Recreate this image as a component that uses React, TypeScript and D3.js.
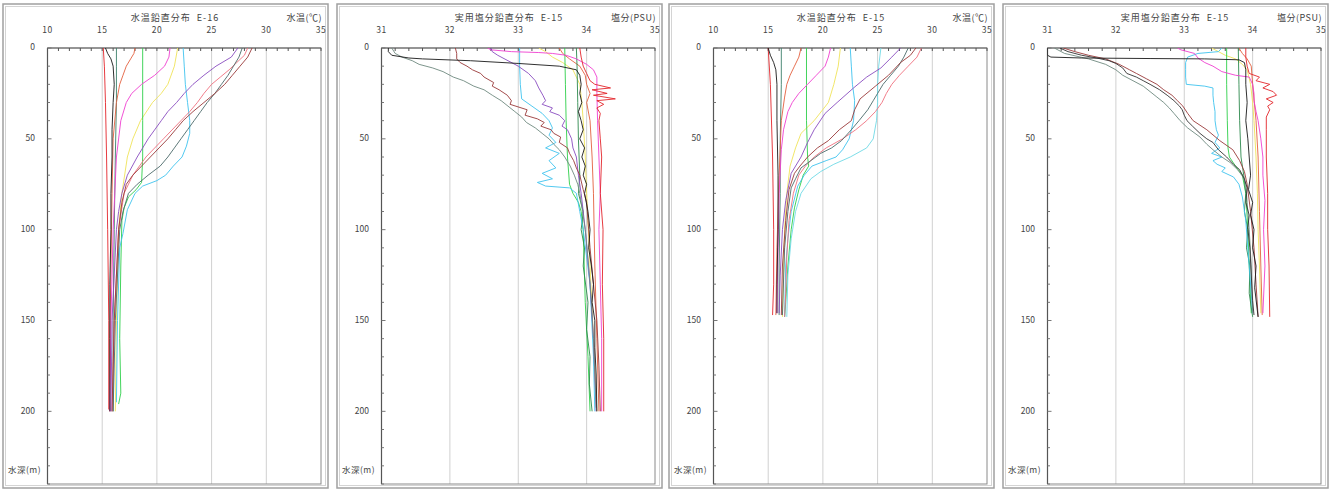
import React from 'react';
import * as d3 from 'd3';

type Pt = [number, number]; // [depth m, value]

// ---------- axis labels ----------
const tempTicks = [10, 15, 20, 25, 30, 35];
const salTicks = [31, 32, 33, 34, 35];
const depthTicks = [0, 50, 100, 150, 200];

// ---------- E-16 temperature ----------
const t16Red: Pt[] = [[0,15.1],[10,15.2],[30,15.3],[60,15.4],[100,15.5],[150,15.6],[199,15.6]];
const t16Black: Pt[] = [[0,15.3],[3,15.5],[6,15.8],[10,16.0],[20,16.1],[30,16.0],[45,15.9],[60,15.9],[80,15.8],[100,15.8],[130,15.7],[160,15.7],[200,15.7]];
const t16Teal: Pt[] = [[0,16.3],[10,16.3],[30,16.3],[60,16.2],[100,16.1],[150,16.0],[200,16.0]];
const t16Orange: Pt[] = [[0,18.0],[3,17.9],[6,17.6],[10,17.2],[15,16.9],[20,16.6],[30,16.3],[50,16.0],[80,15.9],[120,15.8],[160,15.7],[200,15.7]];
const t16Green: Pt[] = [[0,18.7],[20,18.7],[40,18.7],[60,18.7],[74,18.6],[78,18.1],[82,17.4],[88,17.0],[95,16.8],[120,16.7],[160,16.6],[190,16.7],[196,16.5]];
const t16Magenta: Pt[] = [[0,21.2],[5,21.1],[10,20.7],[15,19.8],[20,18.6],[25,17.7],[30,17.2],[40,16.7],[60,16.3],[100,16.0],[150,15.8],[200,15.7]];
const t16Yellow: Pt[] = [[0,21.9],[10,21.6],[20,21.0],[25,20.4],[30,19.6],[40,18.5],[50,17.8],[60,17.3],[80,16.8],[100,16.5],[150,16.3],[200,16.2]];
const t16Cyan: Pt[] = [[0,22.4],[10,22.5],[20,22.6],[30,22.8],[40,23.0],[47,23.0],[54,22.7],[60,22.3],[65,21.5],[70,20.8],[73,20.0],[76,18.7],[80,18.0],[89,17.3],[102,16.9],[110,16.6],[150,16.4],[195,16.3]];
const t16Purple: Pt[] = [[0,27.4],[5,26.8],[10,25.4],[15,24.3],[20,23.3],[25,22.5],[30,21.8],[35,21.0],[40,20.4],[50,19.2],[60,18.2],[70,17.3],[80,16.8],[90,16.5],[100,16.3],[150,15.9],[200,15.8]];
const t16Brown: Pt[] = [[0,28.7],[5,28.3],[10,27.6],[15,26.9],[20,26.2],[25,25.3],[30,24.3],[35,23.3],[40,22.4],[45,21.7],[50,21.0],[55,20.2],[60,19.4],[65,18.6],[70,17.8],[75,17.2],[85,16.8],[100,16.5],[150,16.1],[200,15.9]];
const t16Slate: Pt[] = [[0,27.8],[5,27.5],[10,27.0],[15,26.5],[20,25.9],[25,25.3],[30,24.6],[35,24.0],[40,23.4],[45,22.8],[50,22.2],[55,21.6],[60,21.0],[65,20.3],[70,19.2],[75,18.2],[80,17.4],[90,16.9],[100,16.6],[150,16.2],[200,16.0]];
const t16Pink: Pt[] = [[0,28.3],[4,28.0],[8,27.3],[12,26.6],[16,25.8],[20,25.0],[25,24.3],[30,23.7],[35,23.0],[40,22.2],[50,20.6],[60,19.0],[70,17.8],[80,17.0],[100,16.5],[150,16.1],[200,15.9]];

// ---------- E-15 temperature ----------
const t15Red: Pt[] = [[0,15.0],[20,15.2],[60,15.4],[100,15.5],[130,15.5],[147,15.4]];
const t15Black: Pt[] = [[0,15.0],[4,15.2],[8,15.5],[12,15.7],[20,15.8],[40,15.8],[70,15.9],[100,15.9],[130,15.8],[146,15.8]];
const t15Teal: Pt[] = [[0,16.2],[20,16.2],[50,16.1],[80,16.1],[120,16.0],[147,16.0]];
const t15Orange: Pt[] = [[0,18.0],[5,17.8],[10,17.4],[15,17.0],[20,16.7],[27,16.5],[40,16.2],[70,16.0],[110,15.8],[147,15.7]];
const t15Green: Pt[] = [[0,18.5],[20,18.5],[40,18.5],[60,18.6],[65,18.7],[70,18.2],[78,17.8],[88,17.4],[100,17.1],[120,16.8],[140,16.6],[148,16.5]];
const t15Magenta: Pt[] = [[0,20.7],[5,20.5],[10,20.2],[15,19.4],[20,18.6],[25,17.8],[30,17.2],[35,16.8],[45,16.4],[56,16.2],[80,16.0],[110,15.9],[146,15.8]];
const t15Yellow: Pt[] = [[0,21.6],[10,21.4],[20,21.0],[30,20.5],[40,19.2],[47,18.0],[55,17.5],[65,17.0],[80,16.7],[100,16.5],[148,16.3]];
const t15Cyan: Pt[] = [[0,22.5],[10,22.6],[20,22.7],[29,22.9],[40,22.8],[50,22.4],[56,21.8],[60,21.2],[62,20.3],[65,19.0],[70,18.3],[76,17.7],[90,17.1],[105,16.8],[120,16.6],[148,16.5]];
const t15Aqua: Pt[] = [[0,25.3],[10,25.1],[20,25.0],[30,25.0],[40,24.9],[50,24.6],[55,24.0],[60,22.5],[64,21.0],[68,19.8],[72,18.9],[80,18.0],[90,17.5],[105,17.1],[125,16.8],[148,16.7]];
const t15Purple: Pt[] = [[0,27.1],[5,26.3],[11,25.3],[16,24.0],[22,22.8],[30,21.3],[36,20.2],[45,19.2],[52,18.6],[60,18.0],[69,17.1],[84,16.6],[100,16.3],[125,16.1],[146,16.0]];
const t15Brown: Pt[] = [[0,28.5],[4,28.0],[8,27.1],[15,26.0],[21,24.8],[28,23.4],[34,22.9],[40,22.6],[45,21.5],[51,20.5],[55,19.5],[60,18.6],[65,17.9],[69,17.4],[78,16.9],[95,16.6],[120,16.3],[147,16.2]];
const t15Slate: Pt[] = [[0,27.8],[5,27.4],[10,26.9],[15,26.2],[20,25.5],[25,25.0],[29,24.6],[34,24.1],[40,23.3],[45,22.6],[51,21.7],[55,20.8],[58,19.8],[62,18.9],[66,18.0],[72,17.5],[77,17.1],[90,16.8],[110,16.5],[147,16.3]];
const t15Pink: Pt[] = [[0,29.0],[5,28.6],[10,27.8],[15,27.0],[20,26.3],[25,25.8],[30,25.4],[35,24.8],[40,24.0],[45,23.0],[50,21.8],[55,20.3],[60,19.2],[65,18.4],[70,17.8],[80,17.3],[95,16.9],[115,16.7],[135,16.6],[148,16.5]];

// ---------- E-16 salinity ----------
const s16Black: Pt[] = [[0,31.1],[2,31.1],[4,31.15],[5.5,31.4],[6,31.6],[7,32.3],[8.5,33.0],[10,33.6],[12,33.85],[15,33.9],[20,33.92],[25,33.9],[30,33.93],[35,33.88],[40,33.92],[45,33.95],[50,33.9],[55,33.97],[60,33.93],[65,33.98],[70,33.95],[75,34.0],[80,33.97],[90,34.02],[100,34.05],[110,34.03],[120,34.07],[130,34.1],[140,34.08],[150,34.12],[165,34.12],[180,34.14],[200,34.15]];
const s16Gray: Pt[] = [[0,31.15],[3,31.2],[5,31.3],[7,31.45],[9,31.55],[11,31.75],[13,31.9],[16,32.05],[18,32.2],[21,32.35],[23,32.5],[26,32.62],[29,32.75],[32,32.85],[35,32.95],[38,33.05],[41,33.12],[44,33.25],[47,33.35],[50,33.45],[53,33.52],[56,33.6],[60,33.68],[65,33.76],[70,33.82],[75,33.87],[80,33.9],[90,33.94],[100,33.98],[120,34.03],[140,34.07],[160,34.1],[180,34.12],[198,34.14]];
const s16Brown: Pt[] = [[0,32.08],[3,32.1],[6,32.1],[8,32.15],[10,32.25],[12,32.33],[14,32.45],[16,32.5],[19,32.64],[21,32.62],[23,32.72],[26,32.84],[29,32.9],[31,32.88],[34,33.13],[37,33.1],[39,33.28],[41,33.38],[43,33.33],[45,33.48],[47,33.52],[49,33.62],[52,33.6],[55,33.72],[58,33.75],[62,33.81],[66,33.85],[70,33.9],[78,33.95],[85,34.0],[95,34.02],[110,34.05],[130,34.1],[150,34.15],[175,34.18],[200,34.2]];
const s16Purple: Pt[] = [[0,32.6],[2,32.62],[4,32.7],[7,32.85],[10,33.0],[14,33.15],[18,33.25],[22,33.3],[26,33.36],[29,33.4],[31,33.35],[33,33.5],[35,33.46],[37,33.6],[40,33.68],[43,33.64],[45,33.72],[50,33.78],[55,33.8],[60,33.85],[70,33.88],[80,33.92],[100,33.98],[130,34.05],[160,34.1],[200,34.14]];
const s16Magenta: Pt[] = [[0,32.55],[1,32.6],[2,32.9],[2.5,33.3],[3,33.5],[4,33.7],[6,33.85],[9,34.0],[12,34.1],[16,34.15],[25,34.15],[40,34.16],[60,34.18],[80,34.2],[100,34.18],[130,34.2],[160,34.22],[200,34.22]];
const s16Cyan: Pt[] = [[0,33.02],[10,33.02],[20,33.03],[28,33.05],[32,33.2],[36,33.35],[40,33.45],[44,33.5],[48,33.45],[52,33.55],[55,33.4],[58,33.6],[62,33.45],[66,33.55],[69,33.35],[72,33.5],[74,33.28],[76,33.4],[77,33.75],[80,33.85],[90,33.9],[100,33.95],[130,34.05],[170,34.1],[200,34.12]];
const s16Green: Pt[] = [[0,33.68],[20,33.69],[40,33.7],[60,33.72],[75,33.75],[80,33.8],[85,33.88],[90,33.92],[100,33.95],[140,33.98],[170,34.02],[200,34.05]];
const s16DarkGreen: Pt[] = [[0,33.85],[10,33.86],[30,33.87],[50,33.88],[70,33.9],[80,33.88],[90,33.95],[100,33.92],[110,33.97],[120,33.95],[140,34.02],[155,34.0],[170,34.05],[185,34.04],[200,34.08]];
const s16Yellow: Pt[] = [[0,33.3],[2,33.4],[5,33.5],[8,33.65],[12,33.8],[16,33.85],[20,33.9],[30,33.93],[40,33.95],[60,33.98],[80,34.0],[120,34.05],[160,34.1],[200,34.15]];
const s16Orange: Pt[] = [[0,33.6],[3,33.65],[6,33.75],[10,33.9],[15,33.98],[20,34.0],[25,34.05],[30,34.0],[40,34.05],[60,34.08],[80,34.1],[120,34.12],[160,34.15],[200,34.18]];
const s16Red: Pt[] = [[0,33.9],[5,33.92],[10,33.95],[14,34.0],[18,34.05],[20,34.12],[22,34.35],[23,34.08],[25,34.3],[26,34.1],[28,34.42],[29,34.15],[31,34.25],[33,34.15],[36,34.2],[40,34.18],[50,34.2],[60,34.22],[80,34.2],[100,34.24],[130,34.23],[160,34.25],[200,34.25]];

// ---------- E-15 salinity ----------
const s15Black: Pt[] = [[0,31.0],[4,31.0],[5,31.05],[5.5,31.5],[5.8,32.5],[6,33.3],[6.5,33.8],[8,33.88],[12,33.9],[20,33.9],[30,33.92],[40,33.9],[50,33.93],[60,33.95],[70,33.97],[78,33.94],[85,34.0],[92,33.97],[100,34.02],[110,34.0],[120,34.05],[132,34.03],[148,34.08]];
const s15Dark: Pt[] = [[0,31.18],[2,31.3],[4,31.5],[5.5,31.72],[7,31.9],[8.5,32.0],[11,32.1],[14,32.16],[16,32.3],[18,32.4],[20,32.5],[23,32.64],[26,32.75],[29,32.85],[32,32.93],[34,32.97],[37,33.0],[40,33.04],[43,33.12],[47,33.23],[50,33.33],[52,33.42],[56,33.5],[60,33.62],[64,33.72],[67,33.81],[72,33.88],[77,33.92],[85,33.9],[92,33.95],[99,33.93],[110,33.96],[125,33.98],[139,34.0],[147,34.02]];
const s15Gray: Pt[] = [[0,31.1],[3,31.25],[6,31.6],[9,31.85],[12,32.0],[15,32.1],[18,32.25],[21,32.4],[24,32.5],[27,32.6],[30,32.7],[33,32.78],[36,32.85],[40,32.94],[44,33.05],[49,33.23],[53,33.33],[56,33.42],[60,33.55],[63,33.67],[67,33.78],[71,33.86],[75,33.9],[85,33.92],[100,33.95],[120,33.98],[146,34.0]];
const s15Brown: Pt[] = [[0,31.23],[2,31.4],[4,31.6],[6,31.85],[9,32.05],[12,32.2],[14,32.3],[17,32.45],[20,32.6],[23,32.7],[26,32.82],[29,32.9],[32,32.98],[36,33.05],[40,33.13],[45,33.33],[51,33.52],[56,33.71],[62,33.81],[68,33.88],[75,33.92],[90,33.97],[110,34.02],[130,34.05],[148,34.08]];
const s15Magenta: Pt[] = [[0,32.9],[1,32.95],[3,33.15],[5.5,33.2],[8,33.3],[10,33.42],[13,33.55],[15,33.75],[16,33.95],[20,34.0],[25,34.02],[29,34.02],[35,34.05],[40,34.08],[50,34.12],[60,34.15],[70,34.15],[84,34.18],[100,34.16],[120,34.18],[146,34.15]];
const s15Cyan: Pt[] = [[0,33.55],[2,33.5],[3,33.2],[5,33.05],[8,33.02],[12,33.02],[16,33.02],[20,33.03],[21,33.3],[22,33.42],[26,33.42],[30,33.43],[35,33.45],[40,33.45],[45,33.47],[48,33.5],[52,33.45],[55,33.52],[58,33.4],[60,33.55],[62,33.42],[64,33.48],[66,33.6],[68,33.55],[71,33.72],[75,33.8],[82,33.85],[95,33.9],[120,33.95],[146,34.0]];
const s15Green: Pt[] = [[0,33.62],[20,33.62],[40,33.63],[55,33.64],[60,33.66],[65,33.75],[70,33.85],[80,33.9],[100,33.93],[120,33.95],[146,33.98]];
const s15DarkGreen: Pt[] = [[0,33.79],[20,33.8],[40,33.81],[60,33.83],[70,33.87],[80,33.9],[90,33.88],[100,33.93],[110,33.91],[120,33.96],[135,33.95],[148,34.0]];
const s15Yellow: Pt[] = [[0,33.4],[2,33.5],[4,33.6],[6,33.75],[9,33.85],[12,33.92],[20,33.97],[30,34.0],[40,34.02],[60,34.05],[80,34.07],[100,34.08],[120,34.1],[146,34.12]];
const s15Orange: Pt[] = [[0,33.8],[3,33.85],[6,33.92],[10,33.98],[20,34.0],[40,34.05],[60,34.08],[90,34.1],[120,34.12],[147,34.14]];
const s15Red: Pt[] = [[0,33.9],[5,33.9],[10,33.92],[14,33.95],[16,34.1],[18,34.05],[20,34.25],[22,34.15],[24,34.3],[26,34.35],[28,34.2],[30,34.3],[32,34.22],[34,34.25],[38,34.2],[45,34.2],[60,34.2],[80,34.22],[100,34.22],[120,34.24],[148,34.25]];

const C = {
  red: '#e3262b', black: '#1a1a1a', teal: '#3c7f6a', orange: '#e3603f', green: '#2fcf4a',
  magenta: '#f03fd0', yellow: '#efe35a', cyan: '#3fc3ee', aqua: '#6fd9e6', purple: '#8a4cc0',
  brown: '#9a3a3a', slate: '#4d6a6a', pink: '#f0707e', gray: '#6f8a80', dgreen: '#2e8a4e', dark: '#333333',
};

type Series = { color: string; data: Pt[] };

const temp16: Series[] = [
  { color: C.yellow, data: t16Yellow }, { color: C.red, data: t16Red }, { color: C.teal, data: t16Teal },
  { color: C.orange, data: t16Orange }, { color: C.green, data: t16Green }, { color: C.magenta, data: t16Magenta },
  { color: C.cyan, data: t16Cyan }, { color: C.pink, data: t16Pink }, { color: C.slate, data: t16Slate },
  { color: C.brown, data: t16Brown }, { color: C.purple, data: t16Purple }, { color: C.black, data: t16Black },
];
const temp15: Series[] = [
  { color: C.yellow, data: t15Yellow }, { color: C.red, data: t15Red }, { color: C.teal, data: t15Teal },
  { color: C.orange, data: t15Orange }, { color: C.green, data: t15Green }, { color: C.magenta, data: t15Magenta },
  { color: C.cyan, data: t15Cyan }, { color: C.aqua, data: t15Aqua }, { color: C.pink, data: t15Pink },
  { color: C.slate, data: t15Slate }, { color: C.brown, data: t15Brown }, { color: C.purple, data: t15Purple },
  { color: C.black, data: t15Black },
];
const sal16: Series[] = [
  { color: C.yellow, data: s16Yellow }, { color: C.orange, data: s16Orange }, { color: C.green, data: s16Green },
  { color: C.dgreen, data: s16DarkGreen }, { color: C.cyan, data: s16Cyan }, { color: C.magenta, data: s16Magenta },
  { color: C.red, data: s16Red }, { color: C.purple, data: s16Purple }, { color: C.gray, data: s16Gray },
  { color: C.brown, data: s16Brown }, { color: C.black, data: s16Black },
];
const sal15: Series[] = [
  { color: C.yellow, data: s15Yellow }, { color: C.orange, data: s15Orange }, { color: C.green, data: s15Green },
  { color: C.dgreen, data: s15DarkGreen }, { color: C.cyan, data: s15Cyan }, { color: C.magenta, data: s15Magenta },
  { color: C.red, data: s15Red }, { color: C.gray, data: s15Gray }, { color: C.brown, data: s15Brown },
  { color: C.dark, data: s15Dark }, { color: C.black, data: s15Black },
];

type PanelDef = {
  ox: number; title: string; unit: string; domain: [number, number];
  ticks: number[]; minor: number; series: Series[]; id: string;
};

const panels: PanelDef[] = [
  { id: 'p1', ox: 0, title: '水温鉛直分布  E-16', unit: '水温(℃)', domain: [10, 35], ticks: tempTicks, minor: 1, series: temp16 },
  { id: 'p2', ox: 334, title: '実用塩分鉛直分布  E-15', unit: '塩分(PSU)', domain: [31, 35], ticks: salTicks, minor: 0.2, series: sal16 },
  { id: 'p3', ox: 666, title: '水温鉛直分布  E-15', unit: '水温(℃)', domain: [10, 35], ticks: tempTicks, minor: 1, series: temp15 },
  { id: 'p4', ox: 1000, title: '実用塩分鉛直分布  E-15', unit: '塩分(PSU)', domain: [31, 35], ticks: salTicks, minor: 0.2, series: sal15 },
];

const L = 47.5, R = 321, T = 48, B = 484;
const FONT = '"Noto Sans CJK JP", "Noto Sans", sans-serif';
const yScale = d3.scaleLinear().domain([0, 240]).range([T, B]);

function Panel({ p }: { p: PanelDef }) {
  const x = d3.scaleLinear().domain(p.domain).range([L, R]);
  const line = d3.line<Pt>().x(d => x(d[1])).y(d => yScale(d[0]));
  const nMinor = Math.round((p.domain[1] - p.domain[0]) / p.minor);
  const minorX = d3.range(nMinor + 1).map(i => p.domain[0] + i * p.minor);
  const minorY = d3.range(25).map(i => i * 10);
  return (
    <g transform={`translate(${p.ox},0)`}>
      <rect x={3} y={4} width={325} height={484} fill="#fff" stroke="#a0a0a0" strokeWidth={1.5} />
      <rect x={5.5} y={6.5} width={320} height={479} fill="none" stroke="#d4d4d4" strokeWidth={1} />
      <clipPath id={`clip-${p.id}`}>
        <rect x={L} y={T} width={R - L} height={B - T} />
      </clipPath>
      {p.ticks.slice(1, -1).map(t => (
        <line key={`g${t}`} x1={x(t)} x2={x(t)} y1={T} y2={B} stroke="#d0d0d0" strokeWidth={1} />
      ))}
      <rect x={L} y={T} width={R - L} height={B - T} fill="none" stroke="#8a8a8a" strokeWidth={1} />
      <line x1={L} x2={L} y1={T} y2={B} stroke="#555" strokeWidth={1.2} />
      <line x1={L} x2={R} y1={T} y2={T} stroke="#666" strokeWidth={1.2} />
      {minorX.map((t, i) => (
        <line key={`mx${i}`} x1={x(t)} x2={x(t)} y1={T} y2={T + 3} stroke="#555" strokeWidth={1} />
      ))}
      {minorY.map((d, i) => (
        <line key={`my${i}`} x1={L} x2={L + (d % 50 === 0 ? 4 : 2.5)} y1={yScale(d)} y2={yScale(d)} stroke="#777" strokeWidth={1} />
      ))}
      <g clipPath={`url(#clip-${p.id})`}>
        {p.series.map((s, i) => (
          <path key={i} d={line(s.data) || ''} fill="none" stroke={s.color} strokeWidth={1} strokeLinejoin="round" strokeOpacity={0.9} />
        ))}
      </g>
      <text x={175} y={19} textAnchor="middle" dominantBaseline="middle" fontFamily={FONT} fontSize={9} letterSpacing={1} fill="#444" style={{ whiteSpace: 'pre' }}>{p.title}</text>
      <text x={322} y={19} textAnchor="end" dominantBaseline="middle" fontFamily={FONT} fontSize={9} letterSpacing={0.5} fill="#444">{p.unit}</text>
      {p.ticks.map(t => (
        <text key={`xl${t}`} x={x(t)} y={31} textAnchor="middle" dominantBaseline="middle" fontFamily={FONT} fontSize={8.5} letterSpacing={0.5} fill="#444">{t}</text>
      ))}
      {depthTicks.map(d => (
        <text key={`yl${d}`} x={35} y={yScale(d)} textAnchor="end" dominantBaseline="middle" fontFamily={FONT} fontSize={8.5} fill="#444">{d}</text>
      ))}
      <text x={8} y={471} dominantBaseline="middle" fontFamily={FONT} fontSize={8.5} letterSpacing={0.5} fill="#444">水深(m)</text>
    </g>
  );
}

export default function App() {
  return (
    <svg width={1334} height={492} style={{ position: 'absolute', left: 0, top: 0, background: '#fff' }}>
      {panels.map(p => <Panel key={p.id} p={p} />)}
    </svg>
  );
}
